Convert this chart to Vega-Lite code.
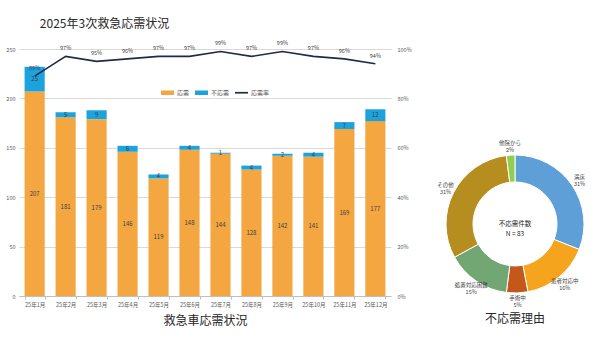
{
  "$schema": "https://vega.github.io/schema/vega-lite/v6.json",
  "background": "white",
  "padding": {"left": 5, "top": 18, "right": 0, "bottom": 0},
  "title": {"text": "2025年3次救急応需状況", "anchor": "start", "dx": 34, "fontSize": 12, "fontWeight": "normal", "color": "#262626", "offset": 10},
  "datasets": {
    "monthly": [
      {"month": "25年1月", "応需": 207, "不応需": 25, "rate": 0.89},
      {"month": "25年2月", "応需": 181, "不応需": 5, "rate": 0.97},
      {"month": "25年3月", "応需": 179, "不応需": 9, "rate": 0.95},
      {"month": "25年4月", "応需": 146, "不応需": 6, "rate": 0.96},
      {"month": "25年5月", "応需": 119, "不応需": 4, "rate": 0.97},
      {"month": "25年6月", "応需": 148, "不応需": 4, "rate": 0.97},
      {"month": "25年7月", "応需": 144, "不応需": 1, "rate": 0.99},
      {"month": "25年8月", "応需": 128, "不応需": 4, "rate": 0.97},
      {"month": "25年9月", "応需": 142, "不応需": 2, "rate": 0.99},
      {"month": "25年10月", "応需": 141, "不応需": 4, "rate": 0.97},
      {"month": "25年11月", "応需": 169, "不応需": 7, "rate": 0.96},
      {"month": "25年12月", "応需": 177, "不応需": 12, "rate": 0.94}
    ],
    "reasons": [
      {"reason": "満床", "share": 0.31},
      {"reason": "患者対応中", "share": 0.16},
      {"reason": "手術中", "share": 0.05},
      {"reason": "処置対応困難", "share": 0.15},
      {"reason": "その他", "share": 0.31},
      {"reason": "他院から", "share": 0.02}
    ]
  },
  "spacing": 23,
  "resolve": {"scale": {"color": "independent"}},
  "hconcat": [
    {
      "width": 372,
      "height": 247,
      "data": {"name": "monthly"},
      "encoding": {
        "x": {
          "field": "month", "type": "ordinal", "sort": null,
          "scale": {"paddingInner": 0.35, "paddingOuter": 0.18},
          "axis": {
            "labelAngle": 0, "labelFontSize": 5.5, "labelColor": "#595959", "labelPadding": 3,
            "domainColor": "#BFBFBF", "tickColor": "#BFBFBF", "tickSize": 3, "tickBand": "extent", "grid": false,
            "title": "救急車応需状況", "titleFontSize": 12, "titleFontWeight": "normal", "titleColor": "#262626", "titlePadding": 8
          }
        }
      },
      "layer": [
        {
          "transform": [{"fold": ["応需", "不応需"], "as": ["type", "count"]}],
          "encoding": {
            "order": {"field": "type", "sort": "descending"}
          },
          "layer": [
            {
              "mark": {"type": "bar"},
              "encoding": {
                "y": {"field": "count", "type": "quantitative", "stack": "zero", "scale": {"domain": [0, 250], "nice": false}, "axis": {"orient": "left", "values": [0, 50, 100, 150, 200, 250], "title": null, "grid": true, "gridColor": "#D9D9D9", "ticks": false, "domain": false, "labelFontSize": 5.5, "labelColor": "#595959", "labelPadding": 4}},
                "color": {
                  "field": "type", "type": "nominal",
                  "scale": {"domain": ["応需", "不応需", "応需率"], "range": ["#F4A641", "#1CA3DE", "#1F2B4A"]},
                  "legend": {
                    "orient": "none", "legendX": 142, "legendY": 37, "direction": "horizontal", "title": null,
                    "labelFontSize": 6, "labelColor": "#595959", "labelOffset": 3, "columnPadding": 5,
                    "symbolType": "M-1,-0.35H1V0.35H-1Z", "symbolSize": 169, "symbolStrokeWidth": 0,
                    "encode": {"symbols": {"update": {
                      "shape": {"signal": "datum.value === '応需率' ? 'M-1,-0.13H1V0.13H-1Z' : 'M-1,-0.35H1V0.35H-1Z'"},
                      "fill": {"scale": "color", "field": "value"},
                      "opacity": {"value": 1}
                    }}}
                  }
                }
              }
            },
            {
              "mark": {"type": "text", "fontSize": 6, "color": "#404040", "baseline": "middle"},
              "encoding": {
                "y": {"field": "count", "type": "quantitative", "stack": "zero", "bandPosition": 0.5, "scale": {"domain": [0, 250], "nice": false}},
                "detail": {"field": "type"},
                "text": {"field": "count", "type": "quantitative"}
              }
            }
          ]
        },
        {
          "encoding": {
            "y": {
              "field": "rate", "type": "quantitative",
              "scale": {"domain": [0, 1], "nice": false},
              "axis": {"orient": "right", "values": [0, 0.2, 0.4, 0.6, 0.8, 1], "format": ".0%", "title": null, "grid": false, "ticks": false, "domain": false, "labelFontSize": 5.5, "labelColor": "#595959", "labelPadding": 6}
            }
          },
          "layer": [
            {"mark": {"type": "line", "strokeWidth": 1.6}, "encoding": {"color": {"datum": "応需率"}}},
            {"mark": {"type": "text", "dy": -8, "fontSize": 5.5, "color": "#404040"}, "encoding": {"text": {"field": "rate", "type": "quantitative", "format": ".0%"}}}
          ]
        }
      ],
      "resolve": {"scale": {"y": "independent"}}
    },
    {
      "spacing": 0,
      "vconcat": [
        {"width": 160, "height": 90, "data": {"values": []}, "mark": "point"},
        {
          "width": 160,
          "height": 170,
          "title": {"text": "不応需理由", "orient": "bottom", "fontSize": 12, "fontWeight": "normal", "color": "#262626", "offset": 5},
          "layer": [
            {
              "data": {"name": "reasons"},
              "transform": [{"window": [{"op": "row_number", "as": "rank"}]}],
              "encoding": {
                "theta": {"field": "share", "type": "quantitative", "stack": true},
                "order": {"field": "rank", "type": "quantitative"}
              },
              "layer": [
                {
                  "mark": {"type": "arc", "outerRadius": 69, "innerRadius": 42, "stroke": "white", "strokeWidth": 1},
                  "encoding": {
                    "color": {"field": "reason", "type": "nominal",
                      "scale": {"domain": ["満床", "患者対応中", "手術中", "処置対応困難", "その他", "他院から"], "range": ["#5E9FD8", "#F5A41E", "#C4581B", "#72A673", "#B68E1F", "#8FCF50"]},
                      "legend": null}
                  }
                },
                {
                  "mark": {"type": "text", "radius": 78, "dy": -3.5, "fontSize": 5.5, "color": "#404040"},
                  "encoding": {"detail": {"field": "reason"}, "text": {"field": "reason"}}
                },
                {
                  "mark": {"type": "text", "radius": 78, "dy": 3.5, "fontSize": 5.5, "color": "#404040"},
                  "encoding": {"detail": {"field": "reason"}, "text": {"field": "share", "type": "quantitative", "format": ".0%"}}
                }
              ]
            },
            {
              "data": {"values": [{"caption": "不応需件数\nN = 83"}]},
              "mark": {"type": "text", "lineBreak": "\n", "fontSize": 6.5, "lineHeight": 10, "color": "#262626"},
              "encoding": {"text": {"field": "caption"}}
            }
          ]
        }
      ]
    }
  ],
  "config": {
    "font": "Noto Sans CJK JP",
    "view": {"stroke": null}
  }
}
